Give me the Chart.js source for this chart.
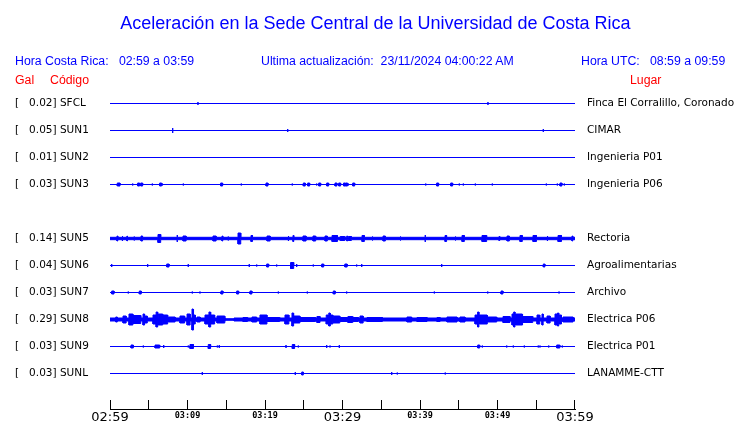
<!DOCTYPE html>
<html><head><meta charset="utf-8">
<script src="https://cdn.jsdelivr.net/npm/chart.js@4"></script>
<style>
body{margin:0;background:#fff;}
#wrap{position:relative;width:740px;height:423px;overflow:hidden;background:#fff;}
#wrap canvas{position:absolute;left:0;top:0;}
.t{position:absolute;white-space:pre;font-family:"Liberation Sans",Arial,sans-serif;line-height:1;}
.b{color:#0000ff;font-size:12.3px;}
.r{color:#ff0000;font-size:12.3px;}
</style></head><body>
<div id="wrap">
<canvas id="c" width="740" height="423"></canvas>
<div class="t" style="left:0;width:751px;text-align:center;top:14px;font-size:18px;color:#0000ff">Aceleración en la Sede Central de la Universidad de Costa Rica</div>
<div class="t b" style="left:15px;top:55px">Hora Costa Rica:   02:59 a 03:59</div>
<div class="t b" style="left:261px;top:55px">Ultima actualización:  23/11/2024 04:00:22 AM</div>
<div class="t b" style="left:581px;top:55px">Hora UTC:   08:59 a 09:59</div>
<div class="t r" style="left:15px;top:74px">Gal</div>
<div class="t r" style="left:50px;top:74px">Código</div>
<div class="t r" style="left:630px;top:74px">Lugar</div>
</div>
<script>
// ---- data ----
const stations = ['SFCL','SUN1','SUN2','SUN3','SUN5','SUN6','SUN7','SUN8','SUN9','SUNL'];
const peakGal  = [0.02,0.05,0.01,0.03,0.14,0.04,0.03,0.29,0.03,0.03];
const places   = ['Finca El Corralillo, Coronado','CIMAR','Ingenieria P01','Ingenieria P06','Rectoria','Agroalimentarias','Archivo','Electrica P06','Electrica P01','LANAMME-CTT'];
const rows     = [0,1,2,3,5,6,7,8,9,10];
const timeLabels = ['02:59','03:09','03:19','03:29','03:39','03:49','03:59'];
const minorStepMin = 5;
// background noise half-amplitude per trace (amplitude units, 27 units = row spacing)
const baseAmp  = [0,0,0,0,1.7,0,0,2,0,0];
// events: [minute after 02:59, half-amplitude, duration in minutes]
const sfcl = [[11.35,2,0],[48.77,2,0]];
const sun1 = [[8.09,3,0],[22.93,2,0],[55.91,2,0]];
const sun2 = [];
const sun3 = [[0.94,2,0.35],[2.93,1.5,0],[3.26,1,0],[3.57,2,0.25],[3.96,2,0.25],[5.46,1.5,0],[5.72,1,0],[6.41,2,0.25],[6.75,1.5,0],[7.10,1,0],[7.39,1,0],[8.17,1,0],[9.46,1.5,0],[10.75,1,0],[14.28,2,0.25],[16.94,1.5,0],[20.13,2,0.25],[23.01,1,0],[23.52,1.5,0],[24.17,1,0],[24.94,2,0.25],[25.51,2,0.25],[26.67,1.5,0],[26.93,2,0.25],[27.96,2,0.25],[29.03,2,0.25],[29.51,2,0.25],[30.10,1.5,0],[30.19,2,0.2],[30.45,2,0.2],[30.75,1.5,0],[31.32,2,0.25],[32.04,1,0],[37.72,1,0],[40.74,1.5,0],[42.15,2,0.25],[43.96,2,0.25],[45.07,1.5,0],[45.59,1.5,0],[47.14,1.5,0],[47.39,1,0],[49.33,1.5,0],[51.39,1,0],[56.30,1.5,0],[57.72,1.5,0],[58.06,2,0.25],[58.62,1.5,0]];
const sun5 = [[0.90,3,0.1],[1.55,3,0.1],[2.19,3,0.05],[3.10,2.5,0.05],[4.0,3,0.2],[6.19,4.5,0.35],[8.65,4,0.05],[9.42,3,0.4],[13.29,3,0.4],[14.45,3,0.1],[15.23,2.5,0.05],[16.52,6,0.35],[18.19,3.5,0.2],[20.26,3,0.4],[22.97,3,0.1],[23.61,3.5,0.1],[24.90,3,0.4],[26.19,3,0.35],[27.74,3,0.3],[28.65,3.5,0.7],[29.7,2.5,0.6],[30.55,3,0.1],[30.75,2.5,0.4],[32.52,3.5,0.3],[33.81,2.5,0.1],[35.23,3,0.3],[37.42,2.5,0.1],[40.65,4,0.05],[43.23,3.5,0.2],[44.52,2.5,0.1],[45.42,3.5,0.3],[48.0,3.5,0.6],[50.19,2.5,0.1],[51.23,3,0.3],[52.90,3.5,0.3],[54.58,3.5,0.45],[56.39,3,0.1],[57.81,3.5,0.45],[59.61,3,0.1]];
const sun6 = [[0.22,2,0],[4.86,2,0],[6.67,1,0],[7.32,2,0.3],[10.10,2,0],[10.54,1,0],[11.91,1,0],[17.97,2,0],[18.93,1.5,0],[20.22,2,0.25],[21.51,1.5,0],[23.3,3.5,0.4],[24.09,2,0],[26.23,1.5,0],[27.32,2,0.25],[30.3,2,0.3],[31.83,1.5,0],[32.48,2,0],[42.80,2,0],[55.91,2,0.2]];
const sun7 = [[0.22,2,0.3],[1.72,1,0],[2.36,1.5,0],[3.78,2,0.25],[4.17,1,0],[10.62,1.5,0],[11.61,1.5,0],[14.32,2,0.25],[16.35,2,0.25],[18.06,2,0.25],[21.72,1.5,0],[25.46,1.5,0],[28.81,2,0.25],[30.54,1.5,0],[37.97,1,0],[41.85,1.5,0],[48.74,1.5,0],[50.45,2,0.25],[54.41,1,0],[57.94,1.5,0],[59.57,1,0]];
const sun8 = [[0.74,3,0.2],[1.68,4,0.4],[2.45,6,0.5],[2.97,4.5,1.0],[4.26,6,0.2],[4.46,4,0.35],[5.55,5,0.4],[5.95,8,0.2],[6.2,6,0.6],[6.84,5,0.6],[7.5,3,0.9],[9.03,4,0.6],[9.94,6,0.4],[10.58,11,0.15],[10.8,5,0.2],[11.23,3,0.4],[12.26,5,0.5],[12.77,8,0.2],[13.0,5,0.5],[13.81,4,1.0],[14.9,1.3,1.1],[17.16,2.5,0.6],[18.32,3,0.6],[19.35,5,0.9],[20.3,2.5,1.6],[22.58,5,0.5],[23.48,7,0.2],[23.7,4,0.8],[24.52,2.5,2.0],[26.7,3.5,0.4],[27.9,5,0.3],[28.25,7,0.15],[28.45,5,0.3],[28.8,4,0.85],[29.7,2.5,1.0],[30.7,3.5,0.6],[31.35,2.5,0.7],[32.26,4,0.4],[33.16,2.5,2.0],[38.32,3,0.6],[39.61,2.5,1.3],[42.19,2.5,0.4],[43.48,3,1.3],[45.16,3,0.65],[47.1,5,0.3],[47.45,8,0.15],[47.65,5,1.0],[48.7,3,1.2],[50.71,3.5,0.9],[51.87,6,0.2],[52.1,8,0.15],[52.3,6,0.9],[53.25,3.5,1.3],[55.1,5,0.35],[55.74,6,0.15],[56.39,4,0.4],[57.42,6,0.3],[57.75,7,0.15],[57.95,5,0.3],[58.45,3,1.3]];
const sun9 = [[2.71,2,0.3],[3.32,1,0],[4.30,1.5,0],[5.81,2,0.6],[6.93,2,0],[9.12,1,0],[10.10,1.5,0],[10.32,2.5,0.45],[12.68,2.5,0.3],[13.33,1,0],[13.85,1.5,0],[14.10,2,0],[19.78,1,0],[22.71,2,0],[23.52,2.5,0.3],[24.30,1.5,0],[27.32,1,0],[27.96,2,0],[28.39,1.5,0],[29.59,2,0],[32.68,1,0],[44.00,1,0],[47.45,2,0.25],[48.04,1.5,0],[51.19,1.5,0],[52.04,1.5,0],[52.90,1,0],[53.46,1.5,0],[53.68,1,0],[55.26,1.5,0],[55.48,1.5,0],[55.83,1,0],[56.61,1.5,0],[57.20,1,0],[57.64,2,0.4],[58.36,1.5,0]];
const sunl = [[11.91,2,0],[23.91,2,0],[24.74,2,0.2],[36.35,2,0],[37.07,1.5,0],[43.26,1.5,0]];
const traceEvents = [sfcl,sun1,sun2,sun3,sun5,sun6,sun7,sun8,sun9,sunl];

// ---- chart construction ----
const UNITS_PER_ROW = 27;
const STROKE_HALF = 0.5;   // half of the 1px stroke, so the drawn height matches the read amplitude
const SPAN = (timeLabels.length - 1) * 10;
const BLUE = '#0000ff';

function envelope(events, base, row, sign) {
  const b = Math.max(base - STROKE_HALF, 0) / UNITS_PER_ROW;
  const pts = [{x: 0, y: row + sign * b}];
  events.forEach(([t, a, d]) => {
    const h = Math.max(a - STROKE_HALF, 0) / UNITS_PER_ROW;
    pts.push({x: t, y: row + sign * b}, {x: t, y: row + sign * h},
             {x: t + d, y: row + sign * h}, {x: t + d, y: row + sign * b});
  });
  pts.push({x: SPAN, y: row + sign * b});
  return pts;
}

const datasets = [];
stations.forEach((s, i) => {
  const common = {borderColor: BLUE, backgroundColor: BLUE, borderWidth: 1, pointRadius: 0,
                  tension: 0, borderJoinStyle: 'miter', yAxisID: 'y'};
  datasets.push(Object.assign({label: s + ' +', data: envelope(traceEvents[i], baseAmp[i], rows[i], -1), fill: '+1'}, common));
  datasets.push(Object.assign({label: s + ' -', data: envelope(traceEvents[i], baseAmp[i], rows[i], 1), fill: false}, common));
});

const leftLabels = stations.map((s, i) => '[   ' + peakGal[i].toFixed(2) + '] ' + s);

const tickMarks = {
  id: 'tickMarks',
  afterDraw(chart) {
    const xs = chart.scales.x, ctx = chart.ctx, bottom = chart.chartArea.bottom;
    ctx.save();
    ctx.strokeStyle = '#000'; ctx.lineWidth = 1;
    ctx.beginPath();
    for (let m = 0; m <= SPAN; m += minorStepMin) {
      const px = xs.getPixelForValue(m);
      const col = Math.min(Math.floor(px), Math.ceil(xs.right) - 1) + 0.5;
      ctx.moveTo(col, bottom - 9.5);
      ctx.lineTo(col, bottom);
    }
    ctx.stroke();
    ctx.restore();
  }
};

const yCommon = {
  type: 'linear', reverse: true, min: -0.5, max: 11.3333,
  grid: {display: false, drawTicks: true, tickLength: 0}, border: {display: false},
  afterBuildTicks: (sc) => { sc.ticks = rows.map(v => ({value: v})); }
};

new Chart(document.getElementById('c'), {
  type: 'line',
  data: {datasets},
  options: {
    responsive: false, animation: false, parsing: false, normalized: true,
    events: [],
    layout: {padding: {left: 15, top: 90, right: 0, bottom: 0}},
    plugins: {legend: {display: false}, tooltip: {enabled: false}, title: {display: false}},
    scales: {
      x: {
        type: 'linear', min: 0, max: SPAN, offset: false,
        grid: {display: true, drawOnChartArea: false, drawTicks: false},
        border: {display: true, color: '#000', width: 1},
        afterBuildTicks: (sc) => { sc.ticks = timeLabels.map((l, i) => ({value: i * 10})); },
        afterFit: (sc) => { sc.height = 13.5; },
        ticks: {
          autoSkip: false, maxRotation: 0, padding: 0, color: '#000',
          callback: (v, i) => timeLabels[i],
          font: (c) => (c.index % 3 === 0)
            ? {family: 'DejaVu Sans', size: 13}
            : {family: 'DejaVu Sans Mono', size: 8.5, weight: 'bold', lineHeight: 1.5}
        }
      },
      y: Object.assign({}, yCommon, {
        position: 'left',
        afterFit: (sc) => { sc.width = 95; },
        ticks: {autoSkip: false, crossAlign: 'far', padding: 0, color: '#000',
                font: {family: 'DejaVu Sans', size: 10.5},
                callback: (v, i) => leftLabels[i]}
      }),
      y2: Object.assign({}, yCommon, {
        position: 'right',
        grid: {display: false, drawTicks: true, tickLength: 12},
        afterFit: (sc) => { sc.width = 165; },
        ticks: {autoSkip: false, crossAlign: 'near', padding: 0, color: '#000',
                font: {family: 'DejaVu Sans', size: 10.5},
                callback: (v, i) => places[i]}
      })
    }
  },
  plugins: [tickMarks]
});
</script>
</body></html>
